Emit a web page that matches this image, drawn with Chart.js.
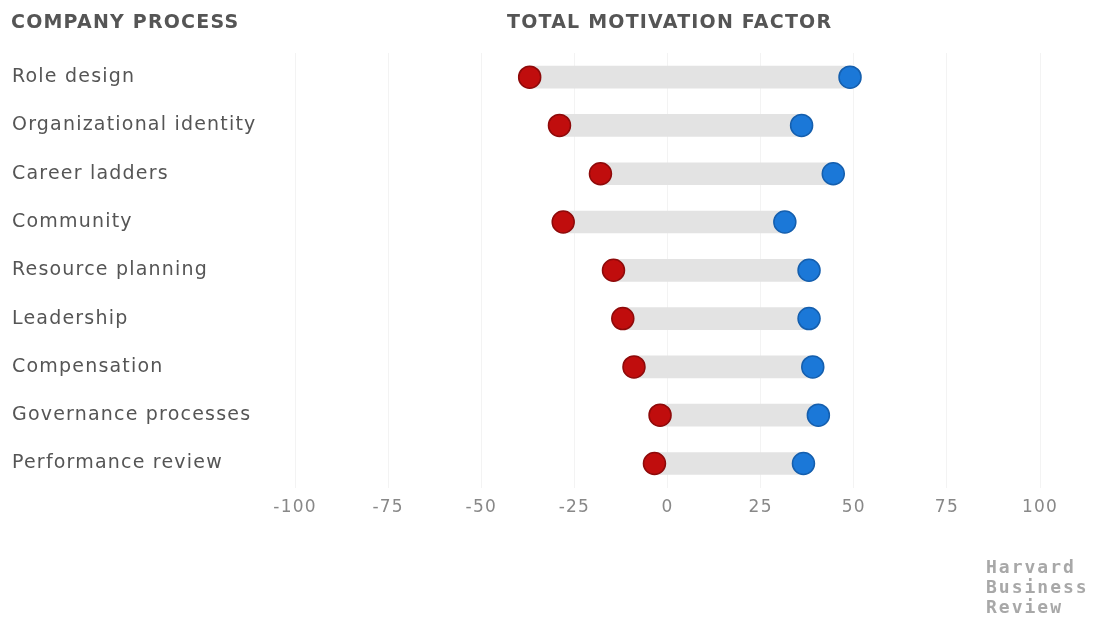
<!DOCTYPE html>
<html><head><meta charset="utf-8">
<script src="https://cdn.jsdelivr.net/npm/chart.js@4/dist/chart.umd.min.js"></script>
<style>
html,body{margin:0;padding:0;background:#fff;}
#wrap{position:relative;width:1095px;height:619px;}
.t{position:absolute;font-family:"DejaVu Sans",sans-serif;font-weight:700;color:#555;font-size:19px;letter-spacing:1.2px;}
#logo{position:absolute;left:986px;top:557px;font-family:"DejaVu Sans Mono",monospace;font-weight:700;font-size:18px;line-height:20px;letter-spacing:2px;color:#a8a8a8;}
</style></head>
<body><div id="wrap">
<canvas id="c" width="1095" height="619"></canvas>
<div class="t" style="left:11px;top:10px;">COMPANY PROCESS</div>
<div class="t" style="left:507px;top:10px;">TOTAL MOTIVATION FACTOR</div>
<div id="logo">Harvard<br>Business<br>Review</div>
</div>
<script>
const categories = ["Role design","Organizational identity","Career ladders","Community","Resource planning","Leadership","Compensation","Governance processes","Performance review"];
const negativeValues = [-37, -29, -18, -28, -14.5, -12, -9, -2, -3.5];
const positiveValues = [49, 36, 44.5, 31.5, 38, 38, 39, 40.5, 36.5];
const tickValues = [-100,-75,-50,-25,0,25,50,75,100];

const spacing = {
  id:'spacing',
  beforeLayout(chart){ chart.ctx.letterSpacing = '1.2px'; },
  beforeDraw(chart){ chart.ctx.letterSpacing = '1.2px'; }
};

const ctx = document.getElementById('c');
new Chart(ctx, {
  plugins:[spacing],
  data: {
    labels: categories,
    datasets: [
      {type:'line', data: categories.map((c,i)=>({x:negativeValues[i], y:c})), showLine:false,
       pointRadius:11, pointHoverRadius:11, pointBackgroundColor:'#c00d0d', pointBorderColor:'#8e0a0a', pointBorderWidth:1.5, order:0},
      {type:'line', data: categories.map((c,i)=>({x:positiveValues[i], y:c})), showLine:false,
       pointRadius:11, pointHoverRadius:11, pointBackgroundColor:'#1b78d8', pointBorderColor:'#155fae', pointBorderWidth:1.5, order:0},
      {type:'bar', data: categories.map((c,i)=>[negativeValues[i], positiveValues[i]]),
       backgroundColor:'#e3e3e3', barThickness:22, borderSkipped:false, order:1}
    ]
  },
  options: {
    indexAxis:'y',
    responsive:false, animation:false,
    layout:{padding:{left:12, right:55, top:53, bottom:91}},
    plugins:{legend:{display:false}, tooltip:{enabled:false}},
    scales:{
      x:{type:'linear', min:-100, max:100, position:'bottom',
         afterBuildTicks: s => { s.ticks = tickValues.map(v=>({value:v})); },
         grid:{color:'#f3f3f3', drawTicks:false, lineWidth:1},
         border:{display:false},
         ticks:{color:'#888', font:{family:'"DejaVu Sans", sans-serif', size:17}, padding:10}},
      y:{type:'category', offset:true,
         afterFit: s => { s.width = 283; },
         grid:{display:false}, border:{display:false},
         ticks:{crossAlign:'far', color:'#555', font:{family:'"DejaVu Sans", sans-serif', size:19}, padding:0}}
    }
  }
});
</script>
</body></html>
